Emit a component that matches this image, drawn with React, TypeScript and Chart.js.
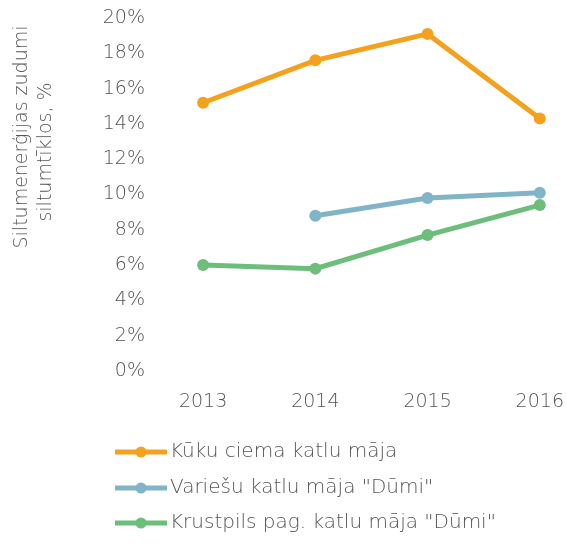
import React, { useEffect, useRef } from "react";
import { Chart, registerables } from "chart.js";

Chart.register(...registerables);

const years = [2013, 2014, 2015, 2016];
const kukuValues = [15.2, 17.6, 19.1, 14.3];
const variesuValues: (number | null)[] = [null, 8.8, 9.8, 10.1];
const krustpilsValues = [6.0, 5.8, 7.7, 9.4];
const seriesLabels = [
  "Kūku ciema katlu māja",
  "Variešu katlu māja \"Dūmi\"",
  "Krustpils pag. katlu māja \"Dūmi\"",
];
const seriesColors = ["#F4A21E", "#82B4C7", "#6CBE7A"];
const yTitleLines = ["Siltumenerģijas zudumi", "siltumtīklos, %"];

const FONT = "'DejaVu Sans', sans-serif";
const WEIGHT = 200;
const TEXT = "#555555";

const toPoints = (vals: (number | null)[]) =>
  years.map((y, i) => ({ x: y, y: vals[i] }));

const sideTextPlugin = {
  id: "sideText",
  afterDraw(chart: any) {
    const ctx = chart.ctx;
    ctx.save();
    ctx.fillStyle = TEXT;
    ctx.font = `${WEIGHT} 19px ${FONT}`;
    ctx.textAlign = "center";
    ctx.textBaseline = "middle";
    const centers = [
      { x: 22, y: 137 },
      { x: 46, y: 152 },
    ];
    yTitleLines.forEach((line, i) => {
      ctx.save();
      ctx.translate(centers[i].x, centers[i].y);
      ctx.rotate(-Math.PI / 2);
      ctx.fillText(line, 0, 0);
      ctx.restore();
    });
    const x0 = 115;
    const x1 = 167;
    const rows = [452, 488, 523];
    chart.data.datasets.forEach((ds: any, i: number) => {
      const y = rows[i];
      ctx.strokeStyle = ds.borderColor;
      ctx.lineWidth = 5;
      ctx.lineCap = "butt";
      ctx.beginPath();
      ctx.moveTo(x0, y);
      ctx.lineTo(x1, y);
      ctx.stroke();
      ctx.fillStyle = ds.borderColor;
      ctx.beginPath();
      ctx.arc((x0 + x1) / 2, y, 5.5, 0, Math.PI * 2);
      ctx.fill();
      ctx.fillStyle = TEXT;
      ctx.font = `${WEIGHT} 20px ${FONT}`;
      ctx.textAlign = "left";
      ctx.textBaseline = "middle";
      ctx.fillText(ds.label, x1 + 3, y);
    });
    ctx.restore();
  },
};

export default function App() {
  const ref = useRef<HTMLCanvasElement>(null);
  useEffect(() => {
    document.body.style.margin = "0";
    const dataSets = [kukuValues, variesuValues, krustpilsValues];
    const chart = new Chart(ref.current!, {
      type: "line",
      data: {
        datasets: dataSets.map((vals, i) => ({
          label: seriesLabels[i],
          data: toPoints(vals),
          borderColor: seriesColors[i],
          backgroundColor: seriesColors[i],
          borderWidth: 5,
          pointRadius: 6,
          pointHoverRadius: 6,
          pointBorderWidth: 0,
          tension: 0,
          spanGaps: false,
        })),
      },
      options: {
        animation: false,
        responsive: false,
        maintainAspectRatio: false,
        layout: { padding: { left: 0, right: 0, top: 18, bottom: 133 } },
        plugins: {
          legend: { display: false },
          tooltip: { enabled: false },
        },
        scales: {
          x: {
            type: "linear",
            min: 2012.5,
            max: 2016.18,
            grid: { display: false, drawTicks: false },
            border: { display: false },
            afterBuildTicks: (scale: any) => {
              scale.ticks = years.map((v) => ({ value: v }));
            },
            afterFit: (scale: any) => {
              scale.height = 40;
              scale.paddingLeft = 0;
              scale.paddingRight = 0;
            },
            ticks: {
              padding: 20,
              color: TEXT,
              font: { family: FONT, size: 19, weight: WEIGHT },
              maxRotation: 0,
              autoSkip: false,
              callback: (v: any) => String(v),
            },
          },
          y: {
            min: 0,
            max: 20,
            grid: { display: false, drawTicks: false },
            border: { display: false },
            afterFit: (scale: any) => {
              scale.width = 147;
              scale.paddingTop = 0;
              scale.paddingBottom = 0;
            },
            ticks: {
              stepSize: 2,
              padding: 2,
              color: TEXT,
              font: { family: FONT, size: 19, weight: WEIGHT },
              callback: (v: any) => `${v}%`,
            },
          },
        },
      },
      plugins: [sideTextPlugin],
    });
    return () => chart.destroy();
  }, []);
  return (
    <div style={{ width: 566, height: 544, background: "#fff" }}>
      <canvas ref={ref} width={566} height={544} />
    </div>
  );
}
